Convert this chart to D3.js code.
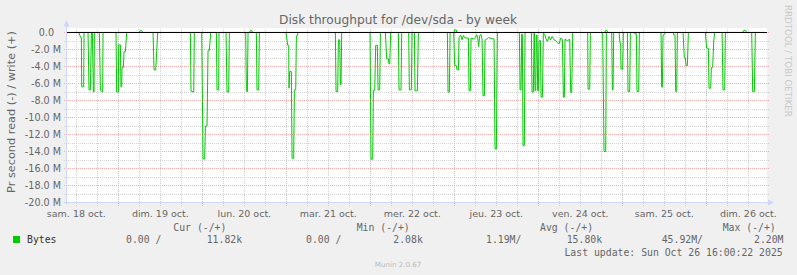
<!DOCTYPE html>
<html>
<head>
<meta charset="utf-8">
<script src="https://cdn.jsdelivr.net/npm/d3@7"></script>
<style>
  body { margin: 0; background: #f0f0f0; }
  svg { display: block; }
</style>
</head>
<body>
<div id="chart"></div>
<script>
// disk throughput, values in MB/s, hours counted from sat 18 oct 00:00
// read is graphed below zero (-), write above zero (+)
var readPoints = [
  [9.34, 0],
  [12.68, 0], [13.25, -0.6], [13.44, -0.6], [13.53, -6.4], [14.1, -6.4], [14.2, 0],
  [15.34, 0], [15.63, -6.75], [16.01, -6.75], [16.3, 0], [16.58, 0], [16.87, -7.0], [17.06, -7.0], [17.15, 0],
  [18.58, 0], [18.87, -6.8], [19.53, -7.0], [19.63, 0],
  [23.34, 0], [23.53, -7.0], [24.0, -7.0], [24.1, -1.45], [24.58, -1.45], [24.77, -6.4], [24.96, -6.4],
  [25.06, -4.1], [25.44, -4.1], [25.63, -2.25], [26.01, -2.25], [26.39, 0],
  [33.91, 0], [34.2, -4.4], [34.68, -4.4], [35.25, 0],
  [44.58, 0], [44.77, -6.9], [45.53, -7.0], [45.72, 0],
  [47.82, 0], [48.2, -14.86], [48.68, -14.86], [48.87, -11.0], [49.34, -11.0], [49.63, -2.1], [50.01, -2.1], [50.39, 0],
  [52.01, 0], [52.2, -6.75], [52.68, -6.75], [52.77, 0],
  [54.77, 0], [55.06, -7.0], [55.53, -7.0], [55.72, 0],
  [60.39, 0], [60.58, -6.8], [60.87, -7.0], [61.06, 0],
  [63.44, 0], [63.63, -6.75], [64.1, -6.75], [64.3, 0],
  [71.91, 0], [72.39, -1.5], [72.68, -1.5], [72.77, -6.55], [72.96, -4.6], [73.44, -4.6], [73.63, -14.8], [74.1, -14.8],
  [74.3, -6.75], [74.68, -6.75], [74.87, -0.4], [75.15, -0.4], [75.34, 0],
  [86.01, 0], [86.2, -6.95], [86.68, -6.95], [86.87, -0.86], [87.25, -0.86], [87.44, -6.15], [87.63, -6.15], [87.82, 0],
  [95.91, 0], [96.2, -14.9], [96.68, -14.9], [96.87, -6.8], [97.25, -6.8], [97.53, -1.5], [98.01, -1.5],
  [98.2, -6.75], [98.68, -6.75], [98.87, 0],
  [100.29, 0], [100.67, -3.1], [101.15, -3.1], [101.34, -3.7], [101.53, -3.7], [101.82, 0],
  [104.01, 0], [104.2, -6.75], [104.77, -6.75], [104.96, 0],
  [106.96, 0], [107.15, -6.75], [107.72, -6.75], [107.91, 0],
  [108.58, 0], [108.77, -6.85], [109.44, -6.85], [109.73, 0],
  [118.01, 0], [118.2, -7.0], [118.58, -7.0], [118.78, 0],
  [119.82, 0], [120.11, -3.9], [120.58, -3.9], [120.78, -4.4], [121.16, -4.4], [121.35, -0.6], [121.82, -0.3],
  [122.2, -0.85], [122.58, -0.35], [123.06, -0.65], [124.01, -0.65], [124.2, -6.85], [124.58, -6.85],
  [124.78, -0.65], [125.44, -0.75], [126.01, -0.6], [126.39, -0.25], [126.68, -0.65], [126.96, -1.65],
  [127.25, -0.35], [127.63, -0.25], [127.92, -0.8], [128.2, -7.45], [128.58, -7.45], [128.78, -0.9],
  [129.25, -0.8], [129.82, -0.6], [130.96, -0.75], [131.35, -0.75], [131.63, -13.7], [132.01, -13.7], [132.3, 0],
  [138.58, 0], [138.78, -6.75], [139.06, -6.75], [139.25, -0.2], [139.44, -0.2], [139.63, -13.3], [140.01, -13.3], [140.2, 0],
  [142.01, 0], [142.2, -7.0], [142.58, -7.0], [142.78, 0],
  [142.87, 0], [143.06, -6.85], [143.25, -6.85], [143.44, -0.3], [143.63, -0.3], [143.82, -6.85], [144.01, -6.85],
  [144.2, -0.95], [144.58, -0.95], [144.78, -7.6], [145.16, -7.6], [145.44, -0.1], [145.82, -0.2], [146.11, -0.67],
  [146.58, -1.05], [147.06, -0.47], [147.54, -0.86], [147.92, -0.47], [148.49, -0.86], [148.96, -0.95],
  [149.44, -1.2], [149.92, -1.33], [150.39, -0.67], [150.87, -0.8], [151.16, -7.6], [151.44, -7.6], [151.63, -0.8],
  [152.3, -0.95], [152.96, -0.8], [153.25, -7.05], [153.54, -7.05], [153.82, 0],
  [158.11, 0], [158.2, -6.67], [158.68, -6.67], [158.87, 0],
  [162.39, 0], [162.77, -14.0], [163.25, -14.0], [163.44, 0],
  [164.96, 0], [165.15, -6.75], [165.34, -6.75], [165.53, 0],
  [167.06, 0], [167.34, -1.25], [167.53, -1.25], [167.63, -4.3], [168.1, -4.3], [168.3, 0],
  [169.44, 0], [169.63, -6.95], [170.1, -6.95], [170.3, 0],
  [171.44, 0], [171.53, -0.15], [172.01, -0.15], [172.2, -6.95], [172.68, -6.95], [172.87, 0],
  [179.06, 0], [179.25, -6.43], [179.44, -6.43], [179.63, -0.3], [180.1, -0.2], [180.3, 0],
  [182.49, 0], [182.68, -0.27], [183.06, -0.27], [183.25, -6.95], [183.54, -6.95], [183.73, 0],
  [185.34, 0], [185.72, -3.0], [186.01, -3.0], [186.2, -3.9], [186.58, -3.9], [186.87, 0],
  [191.72, 0], [192.1, -1.85], [192.58, -1.85], [192.77, -6.55], [193.25, -6.55], [193.44, -4.1], [193.82, -4.1],
  [194.11, -1.0], [194.39, 0],
  [196.49, 0], [196.77, -6.75], [197.25, -6.75], [197.44, 0],
  [204.96, 0], [205.25, -6.95], [205.72, -6.95], [206.01, 0],
  [208.8, 0]
];

var writePoints = [
  [9.34, 0.01], [30.0, 0.01], [30.15, 0.2], [30.75, 0.2], [30.9, 0.01],
  [61.5, 0.01], [61.65, 0.2], [62.2, 0.2], [62.35, 0.01],
  [119.9, 0.01], [120.05, 0.3], [120.55, 0.3], [120.7, 0.01],
  [163.05, 0.01], [163.2, 0.22], [163.65, 0.22], [163.8, 0.01],
  [202.4, 0.01], [202.6, 0.22], [203.3, 0.22], [203.45, 0.01],
  [208.8, 0.01]
];

var dayLabels = ["sam. 18 oct.", "dim. 19 oct.", "lun. 20 oct.", "mar. 21 oct.", "mer. 22 oct.",
                 "jeu. 23 oct.", "ven. 24 oct.", "sam. 25 oct.", "dim. 26 oct."];
var yTickValues = [0, -2, -4, -6, -8, -10, -12, -14, -16, -18, -20];
var yTickLabels = ["0.0", "-2.0 M", "-4.0 M", "-6.0 M", "-8.0 M", "-10.0 M", "-12.0 M",
                   "-14.0 M", "-16.0 M", "-18.0 M", "-20.0 M"];

var legendHeaders = ["Cur (-/+)", "Min (-/+)", "Avg (-/+)", "Max (-/+)"];
var legendRead = ["0.00 /", "0.00 /", "1.19M/", "45.92M/"];
var legendWrite = ["11.82k", "2.08k", "15.80k", "2.20M"];
var lastUpdate = "Last update: Sun Oct 26 16:00:22 2025";

var width = 797, height = 275;
var t0 = Date.UTC(2025, 9, 18);
function hourDate(h) { return new Date(t0 + h * 3600000); }

var x = d3.scaleUtc()
  .domain([hourDate(9 + 20 / 60), hourDate(209 + 20 / 60)])
  .range([67, 767]);

var y = d3.scaleLinear()
  .domain([-20, 0.53])
  .range([202.5, 28]);

var svg = d3.select("#chart")
  .append("svg")
  .attr("width", width)
  .attr("height", height);

svg.append("rect")
  .attr("width", width)
  .attr("height", height)
  .style("fill", "#f0f0f0");

// canvas
svg.append("rect")
  .attr("x", x.range()[0])
  .attr("y", y.range()[1])
  .attr("width", x.range()[1] - x.range()[0])
  .attr("height", y.range()[0] - y.range()[1])
  .style("fill", "#ffffff");

function crisp(v) { return Math.floor(v) + 0.5; }

// horizontal grid, one line per MB/s, red ones on the labelled values
var hGrid = d3.range(-20, 1, 1);
svg.append("g")
  .attr("shape-rendering", "crispEdges")
  .selectAll("line")
  .data(hGrid)
  .enter()
  .append("line")
  .attr("x1", x.range()[0] - 3)
  .attr("x2", x.range()[1] + 2)
  .attr("y1", function(d) { return crisp(y(d)); })
  .attr("y2", function(d) { return crisp(y(d)); })
  .style("stroke", function(d) { return d % 2 === 0 ? "#f2aaaa" : "#d2d2d2"; })
  .style("stroke-dasharray", "1,1")
  .style("stroke-width", 1);

// vertical grid, every 6 hours, red at midnight
var vGrid = d3.utcHour.every(6).range(x.domain()[0], x.domain()[1]);
svg.append("g")
  .attr("shape-rendering", "crispEdges")
  .selectAll("line")
  .data(vGrid)
  .enter()
  .append("line")
  .attr("x1", function(d) { return crisp(x(d)); })
  .attr("x2", function(d) { return crisp(x(d)); })
  .attr("y1", y.range()[0] + 3)
  .attr("y2", y.range()[1])
  .style("stroke", function(d) { return d.getUTCHours() === 0 ? "#f2aaaa" : "#d2d2d2"; })
  .style("stroke-dasharray", "1,1")
  .style("stroke-width", 1);

// axes
var axisColor = "#cfd6f8";
svg.append("line")
  .attr("x1", 66.5).attr("x2", 66.5)
  .attr("y1", y.range()[0] + 2).attr("y2", 24)
  .style("stroke", axisColor);
svg.append("line")
  .attr("x1", 64).attr("x2", 770)
  .attr("y1", 202.5).attr("y2", 202.5)
  .style("stroke", axisColor);
svg.append("path")
  .attr("d", "M63.5,26.5L69.5,26.5L66.5,20Z")
  .style("fill", axisColor);
svg.append("path")
  .attr("d", "M768,199.5L768,205.5L774,202.5Z")
  .style("fill", axisColor);

// data lines
var line = d3.line()
  .x(function(d) { return x(hourDate(d[0])); })
  .y(function(d) { return y(d[1]); });

svg.append("path")
  .datum(readPoints)
  .attr("d", line)
  .style("fill", "none")
  .style("stroke", "#00cc00")
  .style("stroke-width", 1);

svg.append("path")
  .datum(writePoints)
  .attr("d", line)
  .style("fill", "none")
  .style("stroke", "#00cc00")
  .style("stroke-width", 1);

// zero rule
svg.append("line")
  .attr("x1", x.range()[0])
  .attr("x2", x.range()[1])
  .attr("y1", crisp(y(0)))
  .attr("y2", crisp(y(0)))
  .style("stroke", "#000000")
  .style("stroke-width", 1);

var sans = "'DejaVu Sans', sans-serif";
var mono = "'DejaVu Sans Mono', monospace";
var fontColor = "#666666";

// y tick labels
svg.append("g")
  .selectAll("text")
  .data(yTickValues)
  .enter()
  .append("text")
  .attr("x", function(d, i) { return i === 0 ? 54 : 61; })
  .attr("y", function(d) { return crisp(y(d)) + 3.6; })
  .style("font-family", sans)
  .style("font-size", "9.6px")
  .style("text-anchor", "end")
  .style("fill", fontColor)
  .text(function(d, i) { return yTickLabels[i]; });

// day labels at noon
svg.append("g")
  .selectAll("text")
  .data(dayLabels)
  .enter()
  .append("text")
  .attr("x", function(d, i) { return x(hourDate(12 + 24 * i)); })
  .attr("y", 216.5)
  .style("font-family", sans)
  .style("font-size", "9.5px")
  .style("text-anchor", "middle")
  .style("fill", fontColor)
  .text(function(d) { return d; });

// title
svg.append("text")
  .attr("x", 398)
  .attr("y", 24)
  .style("font-family", sans)
  .style("font-size", "12.2px")
  .style("text-anchor", "middle")
  .style("fill", fontColor)
  .text("Disk throughput for /dev/sda - by week");

// vertical axis title
svg.append("text")
  .attr("transform", "translate(14.5,112) rotate(-90)")
  .style("font-family", sans)
  .style("font-size", "11.3px")
  .style("text-anchor", "middle")
  .style("fill", fontColor)
  .text("Pr second read (-) / write (+)");

// watermark on the right
svg.append("text")
  .attr("transform", "translate(785,5) rotate(90)")
  .style("font-family", sans)
  .style("font-size", "8.7px")
  .style("fill", "#c8c8c8")
  .text("RRDTOOL / TOBI OETIKER");

// legend
svg.append("rect")
  .attr("x", 13)
  .attr("y", 236)
  .attr("width", 7)
  .attr("height", 7)
  .style("fill", "#00cc00");

svg.append("text")
  .attr("x", 27)
  .attr("y", 243)
  .style("font-family", mono)
  .style("font-size", "9.8px")
  .style("fill", "#333333")
  .text("Bytes");

var headerX = [173.3, 356.7, 540, 722.7];
var readX = [126, 306, 486, 661.7];
var writeX = [206.7, 393.3, 566.7, 754];

svg.append("g")
  .selectAll("text")
  .data(legendHeaders)
  .enter()
  .append("text")
  .attr("x", function(d, i) { return headerX[i]; })
  .attr("y", 231)
  .style("font-family", mono)
  .style("font-size", "9.8px")
  .style("fill", fontColor)
  .text(function(d) { return d; });

svg.append("g")
  .selectAll("text")
  .data(legendRead)
  .enter()
  .append("text")
  .attr("x", function(d, i) { return readX[i]; })
  .attr("y", 243)
  .style("font-family", mono)
  .style("font-size", "9.8px")
  .style("fill", fontColor)
  .text(function(d) { return d; });

svg.append("g")
  .selectAll("text")
  .data(legendWrite)
  .enter()
  .append("text")
  .attr("x", function(d, i) { return writeX[i]; })
  .attr("y", 243)
  .style("font-family", mono)
  .style("font-size", "9.8px")
  .style("fill", fontColor)
  .text(function(d) { return d; });

svg.append("text")
  .attr("x", 782.7)
  .attr("y", 255.5)
  .style("font-family", mono)
  .style("font-size", "9.8px")
  .style("text-anchor", "end")
  .style("fill", fontColor)
  .text(lastUpdate);

svg.append("text")
  .attr("x", 398)
  .attr("y", 266.5)
  .style("font-family", sans)
  .style("font-size", "7.1px")
  .style("text-anchor", "middle")
  .style("fill", "#bbbbbb")
  .text("Munin 2.0.67");
</script>
</body>
</html>
